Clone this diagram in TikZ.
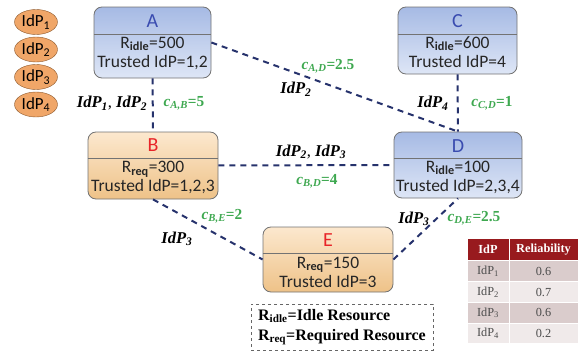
\documentclass[tikz,border=0pt]{standalone}
\usepackage{fontspec}
\setmainfont{Liberation Serif}
\setsansfont{Carlito}
\usetikzlibrary{shapes.geometric,positioning}
\definecolor{navy}{RGB}{38,50,108}
\definecolor{costgreen}{RGB}{62,168,80}
\definecolor{blueTop}{RGB}{166,186,228}
\definecolor{blueBot}{RGB}{222,230,246}
\definecolor{orangeTop}{RGB}{252,232,206}
\definecolor{orangeBot}{RGB}{238,194,136}
\definecolor{blueText}{RGB}{58,76,176}
\definecolor{redText}{RGB}{232,36,40}
\definecolor{idpFill}{RGB}{240,166,104}
\definecolor{idpLine}{RGB}{140,88,44}
\definecolor{headRed}{RGB}{152,26,30}
\definecolor{rowA}{RGB}{218,204,204}
\definecolor{rowB}{RGB}{240,234,234}
\newcommand{\idp}[1]{\textbf{\textit{IdP\textsubscript{#1}}}}
\newcommand{\cost}[2]{\textbf{\textit{c\textsubscript{#1}}=#2}}
\begin{document}
\begin{tikzpicture}[x=1pt,y=-1pt]
		\tikzstyle{idle}=[rectangle, rounded corners=8pt, draw=black!55, thick, top color=blueTop, bottom color=blueBot, inner sep=0pt]
		\tikzstyle{req}=[rectangle, rounded corners=8pt, draw=black!55, thick, top color=orangeTop, bottom color=orangeBot, inner sep=0pt]
		\tikzstyle{title}=[font=\sffamily\fontsize{20}{20}\selectfont, inner sep=0pt]
		\tikzstyle{body}=[font=\sffamily\fontsize{17.5}{19}\selectfont, align=center, inner sep=0pt, text=black!85]
		\tikzstyle{divider}=[draw=black!55, thick]
		\tikzstyle{link}=[navy, line width=2pt, dash pattern=on 6pt off 5pt]
		\tikzstyle{lbl}=[font=\fontsize{16.5}{17}\selectfont, inner sep=0pt]
		\tikzstyle{cst}=[font=\fontsize{15.3}{16}\selectfont, inner sep=0pt, text=costgreen]
		\tikzstyle{idpnode}=[ellipse, draw=idpLine, fill=idpFill, minimum width=43pt, minimum height=25pt, inner sep=0pt, font=\sffamily\fontsize{17}{17}\selectfont]
		\tikzstyle{head}=[rectangle, fill=headRed, draw=white, line width=1pt, text=white, minimum height=23pt, inner sep=0pt, font=\bfseries\fontsize{12.3}{12}\selectfont]
		\tikzstyle{cell}=[rectangle, draw=white, line width=1pt, minimum height=20.75pt, inner sep=0pt, text=black!70, font=\fontsize{12.3}{12}\selectfont]
		\useasboundingbox (0,0) rectangle (582,356);
		
		% identity providers
		\node[idpnode] (p1) at (36,22) {IdP\textsubscript{1}};
		\node[idpnode] (p2) at (36,49.5) {IdP\textsubscript{2}};
		\node[idpnode] (p3) at (36,77) {IdP\textsubscript{3}};
		\node[idpnode] (p4) at (36,104.5) {IdP\textsubscript{4}};
		
		% servers
		\node[idle, minimum width=117pt, minimum height=71pt] (A) at (152.5,42.5) {};
		\node[title, text=blueText] (Atitle) at (152.5,21) {A};
		\draw[divider] (A.west |- 0,34) -- (A.east |- 0,34);
		\node[body] (Abody) at (152.5,53) {R\textsubscript{\textbf{idle}}=500\\Trusted IdP=1,2};
		
		\node[idle, minimum width=119pt, minimum height=67pt] (C) at (457.5,40.5) {};
		\node[title, text=blueText] (Ctitle) at (457.5,21) {C};
		\draw[divider] (C.west |- 0,34) -- (C.east |- 0,34);
		\node[body] (Cbody) at (457.5,52) {R\textsubscript{\textbf{idle}}=600\\Trusted IdP=4};
		
		\node[req, minimum width=130pt, minimum height=67pt] (B) at (153,165.5) {};
		\node[title, text=redText] (Btitle) at (153,145.5) {B};
		\draw[divider] (B.west |- 0,158) -- (B.east |- 0,158);
		\node[body] (Bbody) at (153,177.5) {R\textsubscript{\textbf{req}}=300\\Trusted IdP=1,2,3};
		
		\node[idle, minimum width=128pt, minimum height=66pt] (D) at (458,165) {};
		\node[title, text=blueText] (Dtitle) at (458,146) {D};
		\draw[divider] (D.west |- 0,158) -- (D.east |- 0,158);
		\node[body] (Dbody) at (458,177) {R\textsubscript{\textbf{idle}}=100\\Trusted IdP=2,3,4};
		
		\node[req, minimum width=130pt, minimum height=65pt] (E) at (328,259.5) {};
		\node[title, text=redText] (Etitle) at (328,240.5) {E};
		\draw[divider] (E.west |- 0,253) -- (E.east |- 0,253);
		\node[body] (Ebody) at (328,272) {R\textsubscript{\textbf{req}}=150\\Trusted IdP=3};
		
		% links
		\path (A) edge [link] (B);
		\path (A.east) edge [link] (D.north);
		\path (C) edge [link] (D);
		\path (B) edge [link] (D);
		\path (B.south) edge [link] (E.west);
		\path (E.east) edge [link] (D.south);
		
		% link labels
		\node[lbl] (lab) at (112,103) {\idp{1}, \idp{2}};
		\node[cst] (cab) at (184,103) {\cost{A,B}{5}};
		\node[lbl] (lad) at (296,89) {\idp{2}};
		\node[cst] (cad) at (328,66) {\cost{A,D}{2.5}};
		\node[lbl] (lcd) at (433,103) {\idp{4}};
		\node[cst] (ccd) at (492,103) {\cost{C,D}{1}};
		\node[lbl] (lbd) at (311,152) {\idp{2}, \idp{3}};
		\node[cst] (cbd) at (317,181) {\cost{B,D}{4}};
		\node[cst] (cbe) at (222,216) {\cost{B,E}{2}};
		\node[lbl] (lbe) at (177,239) {\idp{3}};
		\node[lbl] (lde) at (414,219) {\idp{3}};
		\node[cst] (cde) at (474,218) {\cost{D,E}{2.5}};
		
		% legend
		\node[draw=black!60, dashed, thin, minimum width=182pt, minimum height=46pt, align=left, font=\bfseries\fontsize{16}{20}\selectfont] (key) at (342,327) {R\textsubscript{idle}=Idle Resource\\R\textsubscript{req}=Required Resource};
		
		% reliability table
		\node[head, minimum width=42pt] (hidp) at (488,249.5) {IdP};
		\node[head, minimum width=69pt] (hrel) at (543.5,249.5) {Reliability};
		\foreach \i/\v/\c in {1/0.6/rowA, 2/0.7/rowB, 3/0.6/rowA, 4/0.2/rowB}{
			\node[cell, fill=\c, minimum width=42pt] (idp\i) at (488,250.6+\i*20.75) {IdP\textsubscript{\i}};
			\node[cell, fill=\c, minimum width=69pt] (rel\i) at (543.5,250.6+\i*20.75) {\v};
		}
		
	\end{tikzpicture}
\end{document}
